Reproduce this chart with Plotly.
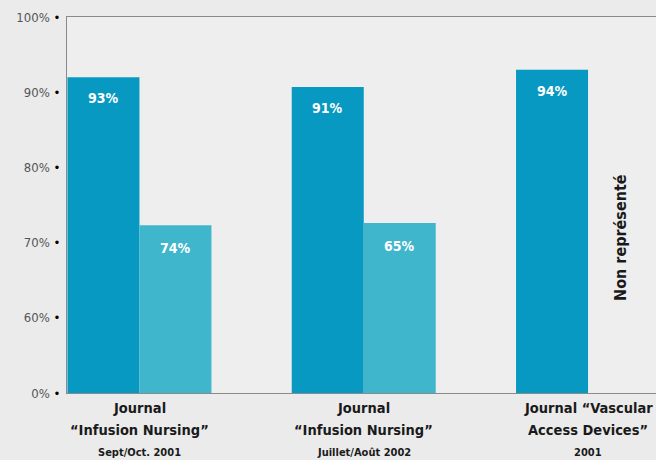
import plotly.graph_objects as go

# ---- data ----
category_line1 = ["Journal", "Journal", "Journal “Vascular"]
category_line2 = ["“Infusion Nursing”", "“Infusion Nursing”", "Access Devices”"]
category_dates = ["Sept/Oct. 2001", "Juillet/Août 2002", "2001"]
# bar heights as drawn in the picture (percent), and the printed labels
dark_heights = [92.0, 90.7, 93.0]
dark_labels = ["93%", "91%", "94%"]
light_heights = [72.3, 72.6, None]
light_labels = ["74%", "65%", None]
tick_values_pct = [0, 60, 70, 80, 90, 100]
tick_labels = ["0%", "60%", "70%", "80%", "90%", "100%"]
missing_note = "Non représenté"

DARK = "#0799c1"
LIGHT = "#3fb6cc"
FONT = "Liberation Sans Narrow, DejaVu Sans Condensed, Arial Narrow, sans-serif"


def pos(v):
    # broken axis: 0% -> 0, 60% -> 1, then one unit per 10%
    return v / 60.0 if v <= 60 else 1 + (v - 60) / 10.0


xs = list(range(len(category_line1)))
W = 0.321

fig = go.Figure()
fig.add_trace(go.Bar(
    x=xs, y=[pos(v) for v in dark_heights], width=W, offset=-W,
    marker=dict(color=DARK, line=dict(width=0)), hoverinfo="skip",
))
lx = [x for x, v in zip(xs, light_heights) if v is not None]
ly = [pos(v) for v in light_heights if v is not None]
fig.add_trace(go.Bar(
    x=lx, y=ly, width=W, offset=0,
    marker=dict(color=LIGHT, line=dict(width=0)), hoverinfo="skip",
))

for x, v, t in zip(xs, dark_heights, dark_labels):
    fig.add_annotation(x=x - W / 2, y=pos(v), text="<b>%s</b>" % t, showarrow=False,
                       yanchor="top", yshift=-11, font=dict(family=FONT, size=14, color="white"))
for x, v, t in zip(xs, light_heights, light_labels):
    if v is None:
        continue
    fig.add_annotation(x=x + W / 2, y=pos(v), text="<b>%s</b>" % t, showarrow=False,
                       yanchor="top", yshift=-13, font=dict(family=FONT, size=14, color="white"))

# category labels (three lines each)
for x, l1, l2, d in zip(xs, category_line1, category_line2, category_dates):
    for txt, shift, size in ((l1, -15, 14.5), (l2, -37, 14.5), (d, -59, 11)):
        fig.add_annotation(x=x, xref="x", y=0, yref="paper", yshift=shift, yanchor="middle",
                           text="<b>%s</b>" % txt, showarrow=False,
                           font=dict(family=FONT, size=size, color="#1a1a1a"))

fig.add_annotation(x=2.145, y=2.07, text="<b>%s</b>" % missing_note, showarrow=False,
                   textangle=-90, font=dict(family=FONT, size=16, color="#1a1a1a"))

fig.update_layout(
    width=656, height=460,
    margin=dict(l=67, r=0, t=17, b=67),
    paper_bgcolor="#ebebeb", plot_bgcolor="#eeeeee",
    showlegend=False, barmode="overlay",
    font=dict(family=FONT),
)
fig.update_xaxes(
    range=[-0.323, 2.303], tickvals=xs, showticklabels=False,
    showline=True, linecolor="#8a8a8a", linewidth=1, mirror=True,
    showgrid=False, zeroline=False, ticks="",
)
fig.update_yaxes(
    range=[0, 5], tickvals=[pos(v) for v in tick_values_pct],
    ticktext=["%s <span style='color:#000'>•</span>" % t for t in tick_labels],
    tickfont=dict(family=FONT, size=13, color="#555"),
    showline=True, linecolor="#8a8a8a", linewidth=1,
    showgrid=False, zeroline=False, ticks="", ticklabelstandoff=3,
)

fig.write_html(
    "out.html",
    config={"displayModeBar": False},
    post_script="document.body.style.margin='0';document.body.style.background='#ebebeb';",
)
